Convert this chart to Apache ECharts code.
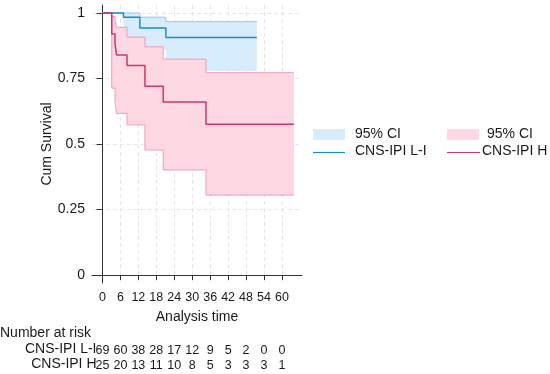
<!DOCTYPE html>
<html>
<head>
<meta charset="utf-8">
<script src="https://cdn.jsdelivr.net/npm/echarts@6/dist/echarts.min.js"></script>
<style>html,body{margin:0;padding:0;background:#fff}#c{width:550px;height:374px}</style>
</head>
<body>
<div id="c"></div>
<script>
// ---- data ----
var xTicks = [0, 6, 12, 18, 24, 30, 36, 42, 48, 54, 60];
var yTicks = [0, 0.25, 0.5, 0.75, 1];

// CNS-IPI L-I (blue)
var timesL = [0, 7.0, 12.5, 21.2, 51.6];
var survL  = [1, 0.984, 0.943, 0.906, 0.906];
var upperL = [1, 1, 0.984, 0.967, 0.967];
var lowerL = [1, 0.90, 0.86, 0.779, 0.779];

// CNS-IPI H (pink)
var timesH = [0, 3.1, 4.2, 4.7, 8.2, 14.2, 20.3, 34.6, 64.0];
var survH  = [1, 0.92, 0.88, 0.84, 0.80, 0.72, 0.66, 0.575, 0.575];
var upperH = [1, 0.987, 0.968, 0.945, 0.908, 0.871, 0.824, 0.772, 0.772];
var lowerH = [1, 0.713, 0.661, 0.617, 0.573, 0.477, 0.401, 0.305, 0.305];

// numbers at risk
var riskL = [69, 60, 38, 28, 17, 12, 9, 5, 2, 0, 0];
var riskH = [25, 20, 13, 11, 10, 8, 5, 3, 3, 3, 1];
var riskNames = ['CNS-IPI L-I', 'CNS-IPI H'];

// ---- build ----
function pairs(t, v) { return t.map(function (x, i) { return [x, v[i]]; }); }
function stepPts(t, v) {
  var out = [];
  for (var i = 0; i < t.length; i++) {
    out.push([t[i], v[i]]);
    if (i < t.length - 1) out.push([t[i + 1], v[i]]);
  }
  return out;
}

var FONT = 'Liberation Sans, Arial, sans-serif';
var TXT = '#1a1a1a';
var blue = '#1f8cc6', blueFill = '#d7ecfc', blueCI = '#8fcaec';
var pink = '#d0356d', pinkFill = '#fdd8e2', pinkCI = '#f19ab7';

var xMin = -3.5, xMax = 66.7;

function bandSeries(t, up, lo, fill, z) {
  return {
    type: 'custom', silent: true, z: z,
    data: pairs(t, up).concat(pairs(t, lo)),
    encode: { x: 0, y: 1 },
    renderItem: function (params, api) {
      if (params.dataIndex !== 0) return null;
      var top = stepPts(t, up);
      var bot = stepPts(t, lo).reverse();
      var pts = top.concat(bot).map(function (p) { return api.coord(p); });
      return { type: 'polygon', shape: { points: pts }, style: { fill: fill, stroke: null } };
    }
  };
}
function lineSeries(t, v, color, w, z) {
  return { type: 'line', step: 'end', data: pairs(t, v), showSymbol: false, silent: true, z: z,
    lineStyle: { color: color, width: w } };
}

function riskAxis(arr, off) {
  return {
    type: 'value', min: xMin, max: xMax, position: 'bottom', offset: off, gridIndex: 0,
    axisLine: { show: false }, axisTick: { show: false }, splitLine: { show: false },
    axisLabel: {
      customValues: xTicks, margin: 8, fontSize: 12.5, fontFamily: FONT, color: TXT,
      formatter: function (v) { var i = xTicks.indexOf(v); return i >= 0 ? String(arr[i]) : ''; }
    }
  };
}

var chart = echarts.init(document.getElementById('c'), null, { renderer: 'canvas' });
chart.setOption({
  animation: false,
  backgroundColor: '#fff',
  grid: { left: 92, top: 5, width: 210, height: 278, containLabel: false },
  xAxis: [
    {
      type: 'value', min: xMin, max: xMax,
      name: 'Analysis time', nameLocation: 'middle', nameGap: 27,
      nameTextStyle: { fontSize: 14, fontFamily: FONT, color: TXT },
      axisLine: { show: true, lineStyle: { color: '#333', width: 1 } },
      axisTick: { show: true, customValues: xTicks, length: 5, lineStyle: { color: '#333' } },
      axisLabel: { customValues: xTicks, margin: 8, fontSize: 12.5, fontFamily: FONT, color: TXT },
      splitLine: { show: true, lineStyle: { color: '#e6e6e6', type: [4, 3], width: 1 } }
    },
    riskAxis(riskL, 53.5),
    riskAxis(riskH, 68.5)
  ],
  yAxis: {
    type: 'value', min: -0.0305, max: 1.0305,
    name: 'Cum Survival', nameLocation: 'middle', nameGap: 37, nameRotate: 90,
    nameTextStyle: { fontSize: 14, fontFamily: FONT, color: TXT },
    axisLine: { show: true, lineStyle: { color: '#333', width: 1 } },
    axisTick: { show: true, customValues: yTicks, length: 6, lineStyle: { color: '#333' } },
    axisLabel: { customValues: yTicks, margin: 7, fontSize: 14, fontFamily: FONT, color: TXT },
    splitLine: { show: true, lineStyle: { color: '#e6e6e6', type: [4, 3], width: 1 } }
  },
  series: [
    bandSeries(timesL, upperL, lowerL, blueFill, 2),
    lineSeries(timesL, upperL, blueCI, 1, 3),
    bandSeries(timesH, upperH, lowerH, pinkFill, 4),
    lineSeries(timesH, upperH, pinkCI, 1, 5),
    lineSeries(timesH, lowerH, pinkCI, 1, 5),
    lineSeries(timesL, survL, blue, 1.5, 6),
    lineSeries(timesH, survH, pink, 1.5, 6)
  ],
  graphic: [
    { type: 'text', left: 0, top: 326, style: { text: 'Number at risk', font: '14px ' + FONT, fill: TXT } },
    { type: 'text', right: 550 - 96.5, top: 342.5, style: { text: riskNames[0], font: '14px ' + FONT, fill: TXT } },
    { type: 'text', right: 550 - 96.5, top: 357.5, style: { text: riskNames[1], font: '14px ' + FONT, fill: TXT } },
    // legend
    { type: 'rect', shape: { x: 313, y: 129, width: 32, height: 11 }, style: { fill: blueFill } },
    { type: 'text', left: 355, top: 127, style: { text: '95% CI', font: '14px ' + FONT, fill: TXT } },
    { type: 'rect', shape: { x: 447, y: 129, width: 32, height: 11 }, style: { fill: pinkFill } },
    { type: 'text', left: 487, top: 127, style: { text: '95% CI', font: '14px ' + FONT, fill: TXT } },
    { type: 'line', shape: { x1: 313, y1: 152.5, x2: 345, y2: 152.5 }, style: { stroke: blue, lineWidth: 1.2 } },
    { type: 'text', left: 355, top: 144, style: { text: 'CNS-IPI L-I', font: '14px ' + FONT, fill: TXT } },
    { type: 'line', shape: { x1: 447, y1: 152.5, x2: 480, y2: 152.5 }, style: { stroke: pink, lineWidth: 1.2 } },
    { type: 'text', left: 482, top: 144, style: { text: 'CNS-IPI H', font: '14px ' + FONT, fill: TXT } }
  ]
});
</script>
</body>
</html>
